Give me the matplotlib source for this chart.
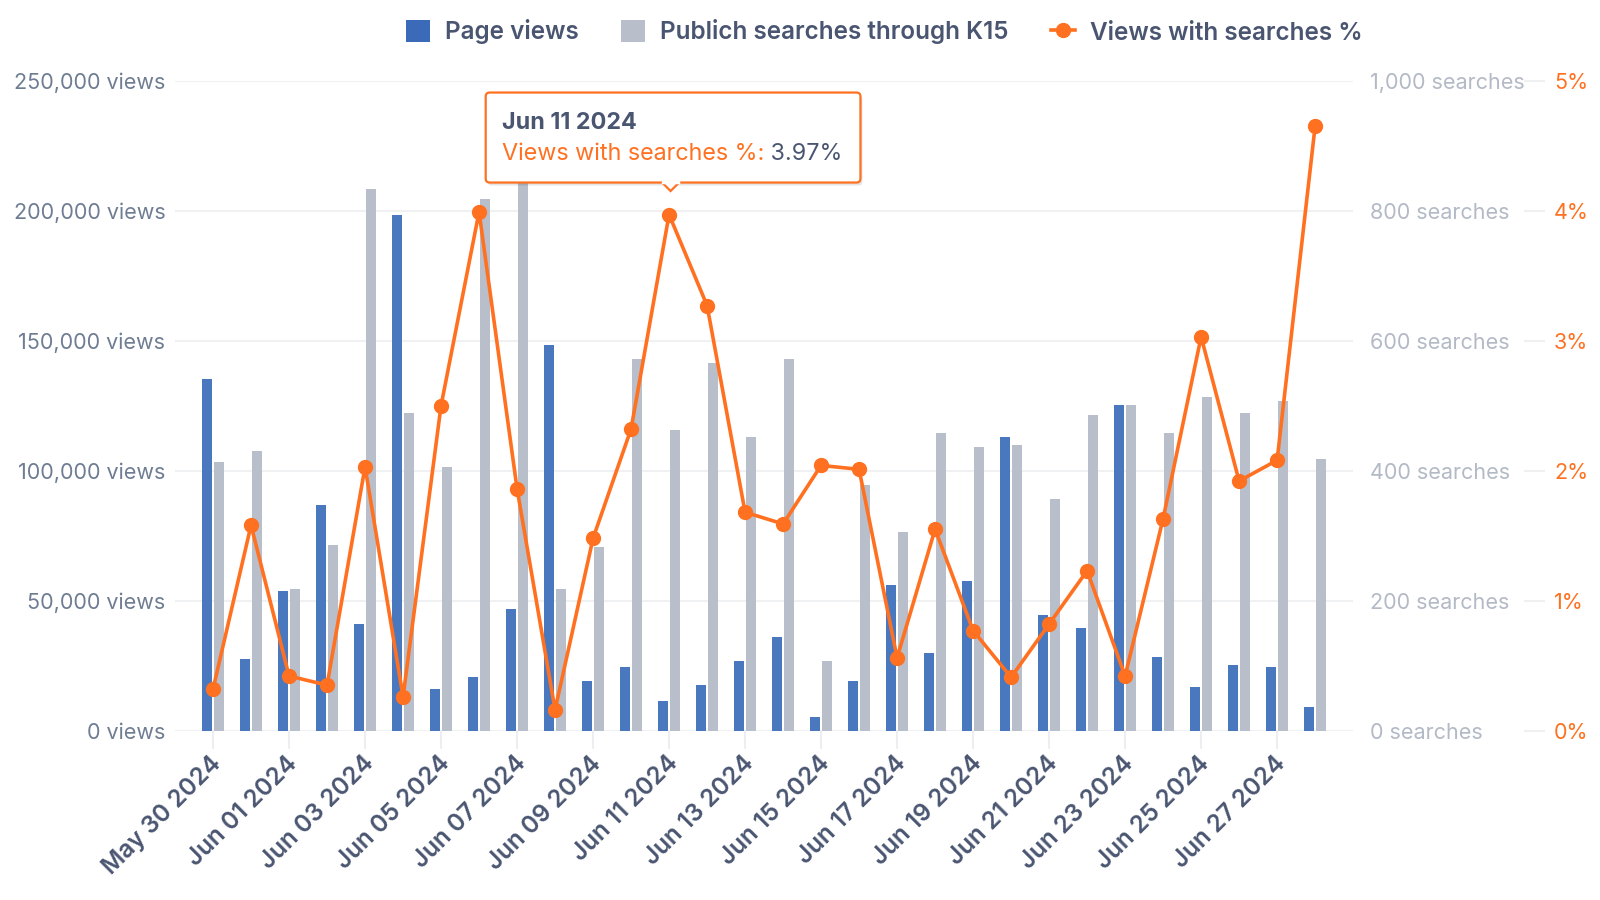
import matplotlib
matplotlib.use("Agg")
import matplotlib.pyplot as plt
import matplotlib.transforms as mtransforms
from matplotlib.patches import FancyBboxPatch, Polygon, Patch
from matplotlib.lines import Line2D
import pandas as pd
import numpy as np

plt.rcParams['font.family'] = ['Inter', 'DejaVu Sans']

dates = pd.date_range("2024-05-30", "2024-06-28", freq="D")
date_labels = [d.strftime("%b %d %Y") for d in dates]

page_views = [135400, 27500, 53800, 86700, 41200, 198200, 16100, 20800, 46700, 148400,
              19200, 24300, 11400, 17700, 26700, 36100, 5100, 19200, 56100, 29800,
              57700, 113000, 44400, 39600, 125200, 28300, 16900, 25100, 24300, 9000]
searches = [414, 430, 218, 286, 834, 488, 405, 818, 870, 218,
            283, 571, 462, 565, 451, 571, 107, 378, 305, 458,
            436, 440, 356, 485, 501, 458, 513, 488, 507, 418]
pct = [0.32, 1.58, 0.42, 0.35, 2.03, 0.26, 2.50, 3.99, 1.86, 0.16,
       1.48, 2.32, 3.97, 3.27, 1.68, 1.59, 2.04, 2.01, 0.56, 1.55,
       0.77, 0.41, 0.82, 1.23, 0.42, 1.63, 3.03, 1.92, 2.08, 4.65]

series_names = ["Page views", "Publich searches through K15", "Views with searches %"]
tooltip_idx = 12

BLUE = "#4a78bf"
BLUE_LEG = "#3b6bb8"
GRAY = "#b8bfca"
ORANGE = "#ff7120"
DARK = "#4a5671"
LEFT_LBL = "#6f7d93"
RIGHT_LBL = "#b3bac6"
GRID = "#f0f1f3"

fig = plt.figure(figsize=(16, 9), dpi=100)
ax = fig.add_axes([0.1094, 0.1882, 0.7363, 0.7222])
x = np.arange(len(dates))
bw = 0.27
off = 0.155

ax.bar(x - off, page_views, width=bw, color=BLUE, zorder=2)
ax.set_ylim(0, 250000)
ax.set_xlim(-1, len(dates))
ax.set_yticks(np.arange(0, 250001, 50000))
ax.set_yticklabels([f"{v:,} views" for v in range(0, 250001, 50000)])
ax.yaxis.grid(True, color=GRID, lw=1.5, zorder=0)
ax.set_axisbelow(True)
ax.tick_params(axis='y', length=0, pad=7, labelsize=15.5, labelcolor=LEFT_LBL)
ax.set_xticks(x[::2])
ax.set_xticklabels(date_labels[::2], rotation=45, ha='right', va='top',
                   rotation_mode='anchor', fontsize=17.5, color=DARK, fontweight='semibold')
ax.tick_params(axis='x', length=13, width=1.5, color="#eceef1", pad=2)
for lbl in ax.get_xticklabels():
    lbl.set_transform(lbl.get_transform() + mtransforms.ScaledTranslation(-3 / 100, 0, fig.dpi_scale_trans))
for sp in ax.spines.values():
    sp.set_visible(False)

ax2 = ax.twinx()
ax2.bar(x + off, searches, width=bw, color=GRAY, zorder=2)
ax2.set_ylim(0, 1000)
ax2.set_yticks(np.arange(0, 1001, 200))
ax2.set_yticklabels([f"{v:,} searches" for v in range(0, 1001, 200)])
ax2.tick_params(axis='y', length=0, pad=12, labelsize=15.5, labelcolor=RIGHT_LBL)
for sp in ax2.spines.values():
    sp.set_visible(False)

ax3 = ax.twinx()
ax3.plot(x, pct, color=ORANGE, lw=2.6, marker='o', ms=10, clip_on=False, zorder=5)
ax3.set_ylim(0, 5)
ax3.set_yticks(np.arange(0, 6, 1))
ax3.set_yticklabels([f"{v}%" for v in range(0, 6)])
ax3.spines['right'].set_position(('axes', 1.1452))
for sp in ax3.spines.values():
    sp.set_visible(False)
ax3.tick_params(axis='y', direction='out', length=15, width=1.5, color="#eef0f2",
                pad=6.5, labelsize=15.5, labelcolor=ORANGE)

# legend
handles = [Patch(facecolor=BLUE_LEG, edgecolor='none'),
           Patch(facecolor=GRAY, edgecolor='none'),
           Line2D([0], [0], color=ORANGE, lw=2.6, marker='o', ms=10)]
leg = fig.legend(handles, series_names, loc='center', bbox_to_anchor=(884 / 1600, 1 - 32 / 900),
                 ncol=3, frameon=False, handlelength=1.0, handleheight=1.0,
                 handletextpad=0.6, columnspacing=1.75, prop={'size': 17.5, 'weight': 'semibold'})
for t in leg.get_texts():
    t.set_color(DARK)

# tooltip
fig.canvas.draw()
renderer = fig.canvas.get_renderer()
px, py = ax3.transData.transform((x[tooltip_idx], pct[tooltip_idx]))
ident = mtransforms.IdentityTransform()
fs = 16.8
t1 = fig.text(0, 0, date_labels[tooltip_idx].replace(" 0", " "), transform=ident, fontsize=fs,
              fontweight='bold', color=DARK, va='center', ha='left', zorder=12)
t2a = fig.text(0, 0, series_names[2] + ":", transform=ident, fontsize=fs, color=ORANGE,
               va='center', ha='left', zorder=12)
t2b = fig.text(0, 0, f" {pct[tooltip_idx]:.2f}%", transform=ident, fontsize=fs, color=DARK,
               va='center', ha='left', zorder=12)
w1 = t1.get_window_extent(renderer).width
w2a = t2a.get_window_extent(renderer).width
w2b = t2b.get_window_extent(renderer).width
box_w = max(w1, w2a + w2b) + 34
box_h = 90
bottom = py + 32
left = px + 4 - box_w / 2
top = bottom + box_h
t1.set_position((left + 16, top - 30.5))
t2a.set_position((left + 16, top - 61))
t2b.set_position((left + 16 + w2a, top - 61))

shadow = FancyBboxPatch((left + 2, bottom - 3), box_w, box_h, boxstyle="round,pad=0,rounding_size=4",
                        transform=ident, fc=(0, 0, 0, 0.10), ec='none', zorder=9)
box = FancyBboxPatch((left, bottom), box_w, box_h, boxstyle="round,pad=0,rounding_size=4",
                     transform=ident, fc='white', ec=ORANGE, lw=1.6, zorder=10)
ax_x = px + 1.5
tri = Polygon([(ax_x - 9, bottom + 0.5), (ax_x + 9, bottom + 0.5), (ax_x, bottom - 8.5)],
              closed=True, transform=ident, fc='white', ec=ORANGE, lw=1.6, zorder=10.5)
cover = Line2D([ax_x - 7.5, ax_x + 7.5], [bottom + 0.5, bottom + 0.5], transform=ident,
               color='white', lw=2.5, zorder=11)
for a in (shadow, box, tri, cover):
    fig.add_artist(a)

fig.savefig("out.png", dpi=100)
